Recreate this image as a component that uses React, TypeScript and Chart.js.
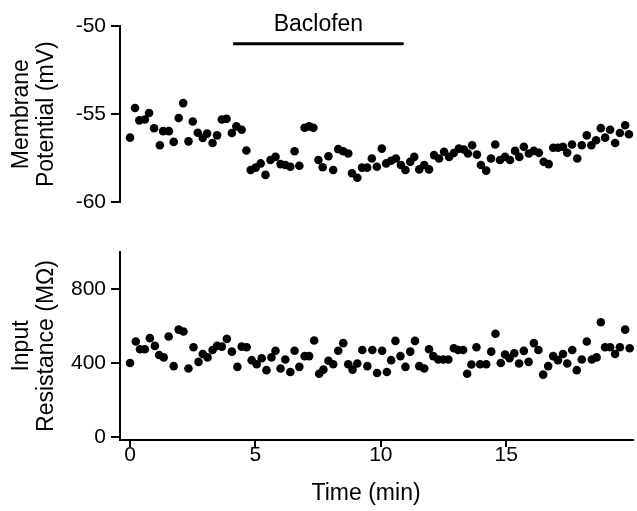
import React, { useEffect, useRef } from 'react';
import { Chart, registerables } from 'chart.js';
Chart.register(...registerables);

const FONT = '"Liberation Sans", Arial, Helvetica, sans-serif';

// Top panel: membrane potential (mV) vs time (min)
const timeTop = [
  0.00, 0.20, 0.37, 0.59, 0.76, 0.96, 1.19, 1.32, 1.55, 1.74,
  1.94, 2.12, 2.33, 2.50, 2.70, 2.90, 3.07, 3.29, 3.47, 3.66,
  3.85, 4.06, 4.24, 4.45, 4.64, 4.81, 5.01, 5.21, 5.40, 5.60,
  5.80, 6.00, 6.19, 6.39, 6.56, 6.75, 6.96, 7.14, 7.31, 7.51,
  7.68, 7.91, 8.10, 8.30, 8.50, 8.70, 8.85, 9.06, 9.25, 9.45,
  9.64, 9.84, 10.04, 10.21, 10.41, 10.60, 10.80, 10.98, 11.17, 11.33,
  11.53, 11.73, 11.92, 12.12, 12.32, 12.52, 12.72, 12.91, 13.11, 13.31,
  13.47, 13.64, 13.83, 13.99, 14.20, 14.39, 14.56, 14.75, 14.95, 15.15,
  15.35, 15.52, 15.70, 15.90, 16.10, 16.30, 16.49, 16.69, 16.87, 17.06,
  17.26, 17.43, 17.62, 17.83, 18.01, 18.21, 18.39, 18.58, 18.77, 18.94,
  19.14, 19.34, 19.53, 19.74, 19.89,
];
const potential = [
  -56.33, -54.65, -55.35, -55.30, -54.93, -55.80, -56.76, -55.96, -55.96, -56.57,
  -55.22, -54.37, -56.54, -55.41, -56.05, -56.35, -56.10, -56.63, -56.20, -55.30,
  -55.26, -56.07, -55.69, -55.88, -57.06, -58.16, -58.03, -57.79, -58.44, -57.60,
  -57.42, -57.83, -57.88, -57.98, -57.10, -57.92, -55.77, -55.69, -55.77, -57.60,
  -58.01, -57.38, -58.16, -56.98, -57.10, -57.23, -58.35, -58.60, -58.03, -58.03,
  -57.51, -57.98, -56.95, -57.79, -57.64, -57.51, -57.88, -58.16, -57.70, -57.42,
  -58.13, -57.88, -58.13, -57.32, -57.51, -57.13, -57.42, -57.20, -56.95, -57.00,
  -57.23, -56.76, -57.29, -57.88, -58.20, -57.51, -56.72, -57.60, -57.42, -57.60,
  -57.08, -57.42, -56.85, -57.23, -57.08, -57.19, -57.70, -57.83, -56.90, -56.90,
  -56.85, -57.19, -56.72, -57.51, -56.76, -56.20, -56.76, -56.48, -55.79, -56.33,
  -55.88, -56.63, -56.07, -55.63, -56.14,
];

// Bottom panel: input resistance (MOhm) vs time (min)
const timeBottom = [
  0.00, 0.23, 0.40, 0.59, 0.79, 0.99, 1.16, 1.34, 1.54, 1.74,
  1.94, 2.13, 2.33, 2.53, 2.73, 2.90, 3.09, 3.29, 3.47, 3.66,
  3.86, 4.06, 4.28, 4.45, 4.65, 4.85, 5.05, 5.25, 5.44, 5.64,
  5.80, 6.00, 6.19, 6.39, 6.56, 6.75, 6.96, 7.14, 7.34, 7.54,
  7.71, 7.91, 8.10, 8.30, 8.50, 8.70, 8.87, 9.06, 9.26, 9.46,
  9.66, 9.85, 10.05, 10.24, 10.41, 10.58, 10.78, 10.98, 11.17, 11.36,
  11.53, 11.73, 11.92, 12.09, 12.29, 12.49, 12.69, 12.91, 13.08, 13.28,
  13.44, 13.61, 13.81, 13.96, 14.20, 14.40, 14.57, 14.78, 14.95, 15.13,
  15.32, 15.51, 15.70, 15.89, 16.10, 16.28, 16.47, 16.67, 16.87, 17.06,
  17.26, 17.43, 17.63, 17.81, 18.01, 18.21, 18.41, 18.60, 18.77, 18.94,
  19.14, 19.34, 19.53, 19.74, 19.92,
];
const resistance = [
  401, 517, 475, 475, 535, 493, 444, 431, 544, 384,
  581, 571, 371, 486, 407, 449, 431, 471, 493, 489,
  531, 462, 380, 489, 486, 416, 394, 426, 362, 431,
  467, 371, 420, 352, 467, 380, 438, 438, 522, 343,
  365, 413, 394, 467, 508, 394, 365, 398, 471, 384,
  471, 347, 467, 352, 416, 520, 438, 380, 462, 520,
  384, 371, 475, 438, 420, 420, 420, 480, 471, 471,
  343, 393, 486, 394, 394, 462, 559, 401, 447, 426,
  453, 398, 466, 407, 508, 471, 338, 384, 438, 416,
  449, 398, 471, 362, 420, 517, 420, 431, 621, 486,
  486, 449, 486, 581, 480,
];

const xTicks = [0, 5, 10, 15];
const potentialTicks = [-60, -55, -50];
const resistanceTicks = [0, 400, 800];
const xRange = [-0.4, 20.04];
const potentialRange = [-60, -50];
const resistanceRange = [-15, 1000];
const baclofenStart = 4.11;
const baclofenEnd = 10.91;
const baclofenLevel = -51.0;
const baclofenText = 'Baclofen';
const xTitle = 'Time (min)';
const xTitleCenter = 9.41;
const topTitle = ['Membrane', 'Potential (mV)'];
const bottomTitle = ['Input', 'Resistance (M\u03A9)'];

const TICK_SIZE = 21;
const TITLE_SIZE = 23;

const yAxisBase = (ticks: number[], range: number[], title: string[]) => ({
  type: 'linear' as const,
  min: range[0],
  max: range[1],
  afterFit: (s: any) => { s.width = 120; },
  afterBuildTicks: (s: any) => { s.ticks = ticks.map((v) => ({ value: v })); },
  ticks: {
    font: { family: FONT, size: TICK_SIZE },
    color: '#000',
    padding: 5,
    callback: (v: any) => String(v),
  },
  grid: { drawOnChartArea: false, drawTicks: true, tickLength: 9, color: '#000', lineWidth: 2 },
  border: { display: true, color: '#000', width: 2 },
  title: {
    display: true,
    text: title,
    color: '#000',
    font: { family: FONT, size: TITLE_SIZE, lineHeight: 1.1 },
    padding: { top: 9, bottom: 0 },
  },
});

const baclofenPlugin = {
  id: 'baclofenLabel',
  afterDraw(chart: any) {
    const ctx = chart.ctx;
    const xs = chart.scales.x;
    const cx = (xs.getPixelForValue(baclofenStart) + xs.getPixelForValue(baclofenEnd)) / 2;
    ctx.save();
    ctx.font = `${TITLE_SIZE}px ${FONT}`;
    ctx.fillStyle = '#000';
    ctx.textAlign = 'center';
    ctx.textBaseline = 'alphabetic';
    ctx.fillText(baclofenText, cx, 31);
    ctx.restore();
  },
};

const xTitlePlugin = {
  id: 'xTitleLabel',
  afterDraw(chart: any) {
    const ctx = chart.ctx;
    const xs = chart.scales.x;
    const cx = xs.getPixelForValue(xTitleCenter);
    ctx.save();
    ctx.font = `${TITLE_SIZE}px ${FONT}`;
    ctx.fillStyle = '#000';
    ctx.textAlign = 'center';
    ctx.textBaseline = 'middle';
    ctx.fillText(xTitle, cx, chart.height - 17);
    ctx.restore();
  },
};

export default function App() {
  const topRef = useRef<HTMLCanvasElement>(null);
  const bottomRef = useRef<HTMLCanvasElement>(null);

  useEffect(() => {
    const top = new Chart(topRef.current as HTMLCanvasElement, {
      type: 'scatter',
      data: {
        datasets: [
          {
            data: timeTop.map((t, i) => ({ x: t, y: potential[i] })),
            pointRadius: 4.3,
            pointBackgroundColor: '#000',
            pointBorderWidth: 0,
            showLine: false,
            clip: false,
          } as any,
          {
            data: [
              { x: baclofenStart, y: baclofenLevel },
              { x: baclofenEnd, y: baclofenLevel },
            ],
            showLine: true,
            borderColor: '#000',
            borderWidth: 3,
            pointRadius: 0,
            clip: false,
          } as any,
        ],
      },
      options: {
        animation: false,
        responsive: false,
        maintainAspectRatio: false,
        layout: { padding: { top: 26, bottom: 13, left: 0, right: 0 } },
        plugins: { legend: { display: false }, tooltip: { enabled: false } },
        scales: {
          x: { type: 'linear', min: xRange[0], max: xRange[1], display: false },
          y: yAxisBase(potentialTicks, potentialRange, topTitle) as any,
        },
      },
      plugins: [baclofenPlugin],
    });

    const bottom = new Chart(bottomRef.current as HTMLCanvasElement, {
      type: 'scatter',
      data: {
        datasets: [
          {
            data: timeBottom.map((t, i) => ({ x: t, y: resistance[i] })),
            pointRadius: 4.3,
            pointBackgroundColor: '#000',
            pointBorderWidth: 0,
            showLine: false,
            clip: false,
          } as any,
        ],
      },
      options: {
        animation: false,
        responsive: false,
        maintainAspectRatio: false,
        layout: { padding: { top: 22, bottom: 0, left: 0, right: 0 } },
        plugins: { legend: { display: false }, tooltip: { enabled: false } },
        scales: {
          x: {
            type: 'linear',
            min: xRange[0],
            max: xRange[1],
            afterFit: (s: any) => { s.height = 71; },
            afterBuildTicks: (s: any) => { s.ticks = xTicks.map((v) => ({ value: v })); },
            ticks: {
              font: { family: FONT, size: TICK_SIZE },
              color: '#000',
              padding: -4,
              maxRotation: 0,
              callback: (v: any) => String(v),
            },
            grid: { drawOnChartArea: false, drawTicks: true, tickLength: 7, color: '#000', lineWidth: 2 },
            border: { display: true, color: '#000', width: 2 },
          } as any,
          y: yAxisBase(resistanceTicks, resistanceRange, bottomTitle) as any,
        },
      },
      plugins: [xTitlePlugin],
    });

    return () => {
      top.destroy();
      bottom.destroy();
    };
  }, []);

  return (
    <div style={{ position: 'absolute', left: 0, top: 0, width: 637, height: 511, background: '#fff' }}>
      <canvas ref={topRef} width={637} height={220} style={{ position: 'absolute', left: 0, top: 0, display: 'block' }} />
      <canvas ref={bottomRef} width={637} height={281} style={{ position: 'absolute', left: 0, top: 230, display: 'block' }} />
    </div>
  );
}
